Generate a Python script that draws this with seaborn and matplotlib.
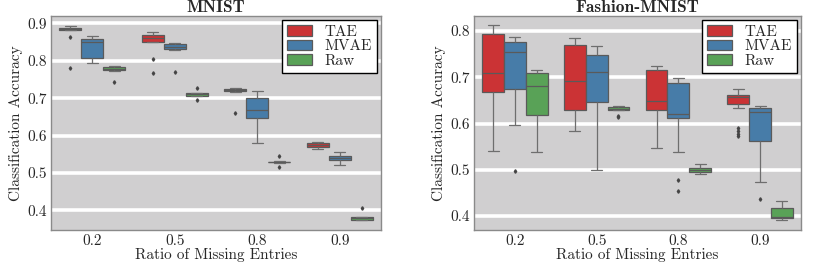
import numpy as np
import pandas as pd
import matplotlib
matplotlib.use("Agg")
import matplotlib.pyplot as plt
import seaborn as sns

# ---------------------------------------------------------------------------------
# Datos (muestras estimadas a partir de la figura)
# ---------------------------------------------------------------------------------
ratios = ["0.2", "0.5", "0.8", "0.9"]
methods = ["TAE", "MVAE", "Raw"]

mnist_tae = [
    [0.780, 0.864, 0.883, 0.884, 0.886, 0.887, 0.888, 0.890, 0.892],
    [0.768, 0.805, 0.851, 0.857, 0.862, 0.866, 0.869, 0.872, 0.876],
    [0.661, 0.717, 0.718, 0.720, 0.722, 0.723, 0.725, 0.726, 0.727],
    [0.564, 0.566, 0.568, 0.571, 0.574, 0.576, 0.579, 0.581, 0.582],
]
mnist_mvae = [
    [0.793, 0.800, 0.807, 0.838, 0.851, 0.855, 0.858, 0.862, 0.867],
    [0.771, 0.830, 0.832, 0.836, 0.838, 0.840, 0.844, 0.846, 0.849],
    [0.579, 0.620, 0.647, 0.660, 0.668, 0.690, 0.701, 0.710, 0.718],
    [0.520, 0.528, 0.534, 0.537, 0.540, 0.543, 0.545, 0.551, 0.557],
]
mnist_raw = [
    [0.742, 0.774, 0.776, 0.777, 0.778, 0.780, 0.783, 0.784, 0.785],
    [0.695, 0.706, 0.707, 0.709, 0.710, 0.711, 0.713, 0.714, 0.727],
    [0.517, 0.527, 0.528, 0.5285, 0.529, 0.5295, 0.530, 0.531, 0.544],
    [0.373, 0.374, 0.375, 0.377, 0.379, 0.380, 0.382, 0.383, 0.406],
]

fashion_tae = [
    [0.541, 0.620, 0.669, 0.690, 0.710, 0.760, 0.793, 0.805, 0.812],
    [0.585, 0.610, 0.629, 0.660, 0.693, 0.740, 0.770, 0.778, 0.785],
    [0.548, 0.600, 0.630, 0.640, 0.649, 0.690, 0.716, 0.720, 0.724],
    [0.573, 0.578, 0.583, 0.590, 0.634, 0.643, 0.645, 0.648, 0.651, 0.654, 0.657,
     0.658, 0.659, 0.660, 0.660, 0.661, 0.664, 0.667, 0.670, 0.672, 0.674],
]
fashion_mvae = [
    [0.498, 0.596, 0.675, 0.720, 0.755, 0.768, 0.777, 0.783, 0.787],
    [0.500, 0.600, 0.647, 0.690, 0.712, 0.735, 0.749, 0.760, 0.768],
    [0.455, 0.479, 0.539, 0.612, 0.615, 0.618, 0.620, 0.640, 0.665, 0.687, 0.692, 0.696, 0.699],
    [0.438, 0.473, 0.562, 0.600, 0.625, 0.630, 0.634, 0.637, 0.639],
]
fashion_raw = [
    [0.539, 0.580, 0.619, 0.660, 0.682, 0.700, 0.709, 0.712, 0.715],
    [0.614, 0.617, 0.629, 0.631, 0.632, 0.633, 0.635, 0.637, 0.638],
    [0.490, 0.493, 0.496, 0.498, 0.500, 0.501, 0.503, 0.508, 0.513],
    [0.391, 0.394, 0.397, 0.398, 0.399, 0.408, 0.417, 0.425, 0.432],
]


def to_long(tae, mvae, raw):
    rows = []
    for name, groups in zip(methods, [tae, mvae, raw]):
        for r, vals in zip(ratios, groups):
            for v in vals:
                rows.append((r, name, v))
    return pd.DataFrame(rows, columns=["ratio", "method", "acc"])


df_mnist = to_long(mnist_tae, mnist_mvae, mnist_raw)
df_fashion = to_long(fashion_tae, fashion_mvae, fashion_raw)

# ---------------------------------------------------------------------------------
# Estilo
# ---------------------------------------------------------------------------------
sns.set_style("darkgrid", {"axes.facecolor": "#d0cfd0", "grid.color": "white",
                           "axes.edgecolor": "#8a8a8a"})
plt.rcParams["font.family"] = ["cmr10", "DejaVu Serif"]
plt.rcParams["mathtext.fontset"] = "cm"
plt.rcParams["axes.formatter.use_mathtext"] = True

palette = ["#e41a1c", "#377eb8", "#4daf4a"]

fig = plt.figure(figsize=(8.3, 2.62), dpi=100)
ax1 = fig.add_axes([51 / 830, 32 / 262, 330 / 830, 214 / 262])
ax2 = fig.add_axes([474 / 830, 32 / 262, 327 / 830, 214 / 262])

panels = [
    (ax1, df_mnist, "MNIST", (0.347, 0.920), [0.4, 0.5, 0.6, 0.7, 0.8, 0.9]),
    (ax2, df_fashion, "Fashion-MNIST", (0.370, 0.8325), [0.4, 0.5, 0.6, 0.7, 0.8]),
]

for ax, d, title, ylim, yticks in panels:
    sns.boxplot(data=d, x="ratio", y="acc", hue="method", order=ratios,
                hue_order=methods, palette=palette, saturation=0.75,
                linewidth=0.9, linecolor="#5a5a5a", fliersize=1.8, ax=ax,
                whiskerprops={"color": "#6e6e6e"}, capprops={"color": "#6e6e6e"},
                flierprops={"marker": "d", "markerfacecolor": "#444444",
                            "markeredgecolor": "#444444"})
    ax.set_ylim(*ylim)
    ax.set_xlim(-0.5, 3.5)
    ax.set_yticks(yticks)
    ax.set_yticklabels([f"{t:.1f}" for t in yticks])
    ax.grid(axis="y", color="white", linewidth=2.6)
    ax.grid(axis="x", visible=False)
    ax.tick_params(axis="both", labelsize=11, length=0, pad=3)
    ax.set_xlabel("Ratio of Missing Entries", fontsize=11, labelpad=0)
    ax.set_ylabel("Classification Accuracy", fontsize=11, labelpad=3)
    ax.set_title(title, fontsize=12.5, fontfamily="cmb10", pad=3)
    for s in ax.spines.values():
        s.set_linewidth(1)
    leg = ax.legend(loc="upper right", fontsize=11, frameon=True, fancybox=False,
                    framealpha=1, edgecolor="black", handlelength=1.65,
                    handleheight=0.7, borderpad=0.35, labelspacing=0.05,
                    handletextpad=0.8, borderaxespad=0.25)
    leg.get_frame().set_linewidth(1)
    leg.get_frame().set_facecolor("white")

plt.savefig("out.png", dpi=100)
